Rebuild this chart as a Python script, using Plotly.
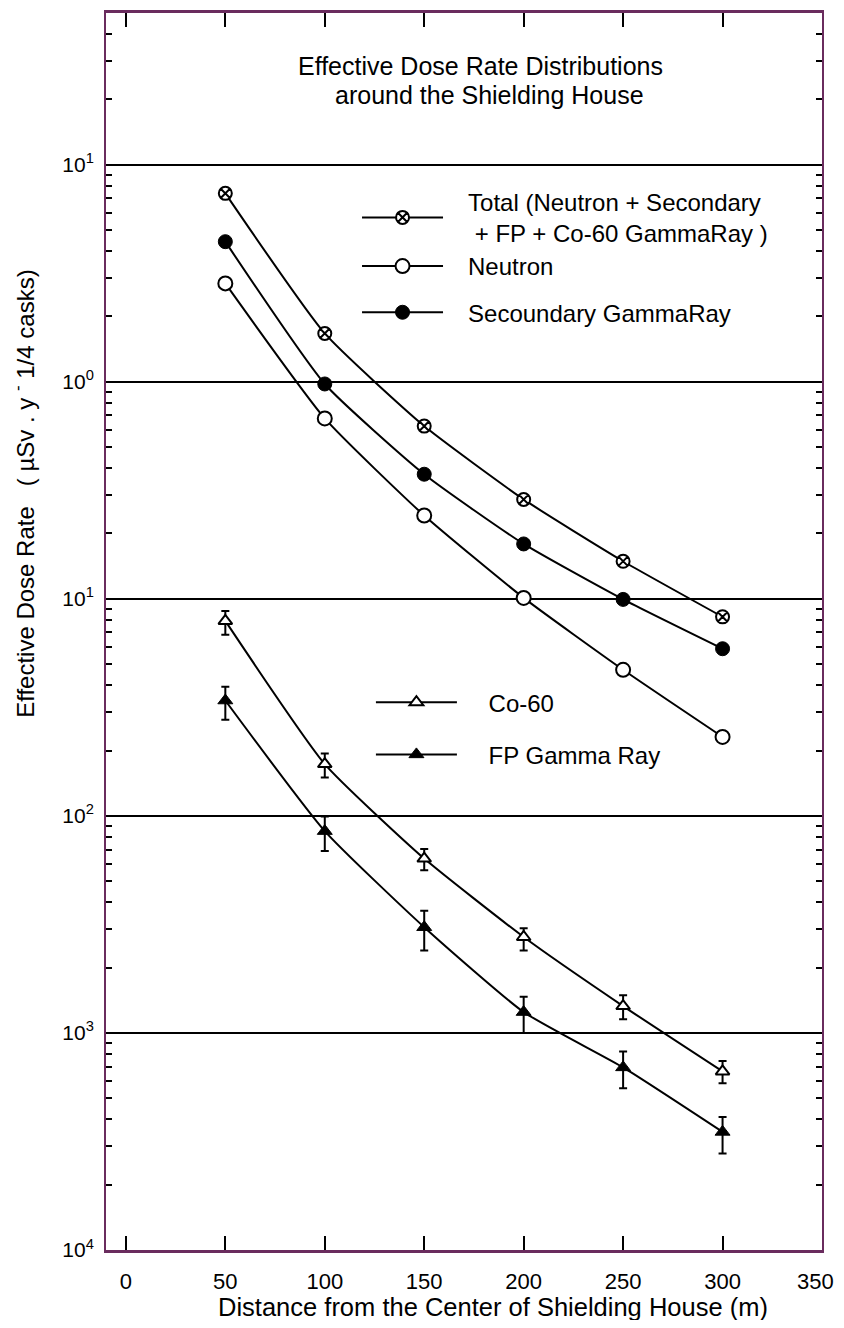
import plotly.graph_objects as go

# ---- data ----
distance = [50, 100, 150, 200, 250, 300]

total = [7.38, 1.67, 0.625, 0.287, 0.149, 0.0826]
neutron = [2.84, 0.678, 0.242, 0.101, 0.0471, 0.0231]
secondary = [4.42, 0.977, 0.375, 0.179, 0.0994, 0.0589]

co60 = [0.0791, 0.01733, 0.00636, 0.002767, 0.00133, 0.000665]
co60_hi = [0.0879, 0.01936, 0.00704, 0.00304, 0.00149, 0.000742]
co60_lo = [0.0683, 0.01504, 0.00562, 0.00240, 0.001156, 0.000587]

fp = [0.0340, 0.00851, 0.00307, 0.001248, 0.000694, 0.000350]
fp_hi = [0.0394, 0.00993, 0.00366, 0.00147, 0.000822, 0.000410]
fp_lo = [0.0277, 0.00689, 0.00240, 0.00100, 0.000556, 0.000278]

x_ticks = [0, 50, 100, 150, 200, 250, 300, 350]
x_ticktext = ["0", "50", "100", "150", "200", "250", "300", ""]
x_last_label = "350"
y_tickvals = [1e1, 1e0, 1e-1, 1e-2, 1e-3, 1e-4]
y_ticktext = ["10<sup>1</sup>", "10<sup>0</sup>", "10<sup>1</sup>", "10<sup>2</sup>",
              "10<sup>3</sup>", "10<sup>4</sup>"]

NB = "\u00a0"
names = {
    "total": NB * 3 + "Total (Neutron + Secondary<br>" + NB * 4 + "+ FP + Co-60 GammaRay )",
    "neutron": NB * 3 + "Neutron",
    "secondary": NB * 3 + "Secoundary GammaRay",
    "co60": NB * 4 + "Co-60",
    "fp": NB * 4 + "FP Gamma Ray",
}

FONT = "Liberation Sans, Arial, sans-serif"
FRAME = "#6a2c5e"

fig = go.Figure()

line_style = dict(color="black", width=2, shape="spline", smoothing=0.5)

fig.add_trace(go.Scatter(
    x=distance, y=total, name=names["total"], mode="lines+markers",
    line=line_style, legend="legend",
    marker=dict(symbol="circle-x", size=13, color="white",
                line=dict(color="black", width=2))))
fig.add_trace(go.Scatter(
    x=distance, y=neutron, name=names["neutron"], mode="lines+markers",
    line=line_style, legend="legend3", legendgroup="n",
    marker=dict(symbol="circle", size=14, color="white",
                line=dict(color="black", width=2))))
fig.add_trace(go.Scatter(
    x=distance, y=secondary, name=names["secondary"], mode="lines+markers",
    line=line_style, legend="legend3", legendgroup="s",
    marker=dict(symbol="circle", size=14, color="black",
                line=dict(color="black", width=1))))

fig.add_trace(go.Scatter(
    x=distance, y=co60, name=names["co60"], mode="lines+markers",
    line=line_style, legend="legend2", legendgroup="c",
    error_y=dict(type="data", symmetric=False,
                 array=[h - v for h, v in zip(co60_hi, co60)],
                 arrayminus=[v - l for v, l in zip(co60, co60_lo)],
                 color="black", thickness=2, width=4),
    marker=dict(symbol="triangle-up", size=12, color="white",
                line=dict(color="black", width=2))))
fig.add_trace(go.Scatter(
    x=distance, y=fp, name=names["fp"], mode="lines+markers",
    line=line_style, legend="legend2", legendgroup="f",
    error_y=dict(type="data", symmetric=False,
                 array=[h - v for h, v in zip(fp_hi, fp)],
                 arrayminus=[v - l for v, l in zip(fp, fp_lo)],
                 color="black", thickness=2, width=4),
    marker=dict(symbol="triangle-up", size=13, color="black",
                line=dict(color="black", width=1))))

minor_vals = []
for e in range(-4, 2):
    for m in range(2, 10):
        v = m * 10 ** e
        if v < 50:
            minor_vals.append(v)

leg_common = dict(xanchor="left", yanchor="middle", bgcolor="rgba(0,0,0,0)",
                  itemwidth=81, font=dict(family=FONT, size=24), itemclick=False,
                  borderwidth=0)

fig.update_layout(
    width=836, height=1312,
    margin=dict(l=98, r=22, t=2, b=70),
    paper_bgcolor="white", plot_bgcolor="white",
    font=dict(family=FONT, size=22, color="black"),
    showlegend=True,
    legend=dict(x=0.3506, y=0.8345, **leg_common),
    legend3=dict(x=0.3506, y=0.7765, tracegroupgap=12, **leg_common),
    legend2=dict(x=0.370, y=0.4215, tracegroupgap=18, **leg_common),
    xaxis=dict(range=[-10, 350], tickvals=x_ticks, ticktext=x_ticktext,
               ticks="inside", ticklen=14,
               tickwidth=2, tickcolor="black", showgrid=False, zeroline=False,
               showline=True, linecolor=FRAME, linewidth=3, mirror="allticks",
               tickfont=dict(family=FONT, size=22), ticklabelstandoff=10),
    yaxis=dict(type="log", range=[-4, 1.69897], tickvals=y_tickvals,
               ticktext=y_ticktext, ticks="inside", ticklen=0,
               showgrid=True, gridcolor="black", gridwidth=2,
               zeroline=False, showline=True, linecolor=FRAME, linewidth=2,
               mirror="allticks", tickfont=dict(family=FONT, size=21),
               ticklabelstandoff=6,
               minor=dict(tickvals=minor_vals, ticks="inside", ticklen=6,
                          tickwidth=2, tickcolor="black", showgrid=False)),
)

# last x tick label, kept inside the visible page
fig.add_annotation(text=x_last_label, xref="x", yref="paper",
                   x=x_ticks[-1], y=-0.0255, xanchor="right", yanchor="middle",
                   xshift=14, showarrow=False, font=dict(family=FONT, size=22))

fig.add_annotation(text="Effective Dose Rate Distributions", xref="paper", yref="paper",
                   x=0.5237, y=0.9572, xanchor="center", yanchor="middle",
                   showarrow=False, font=dict(family=FONT, size=25))
fig.add_annotation(text="around the Shielding House", xref="paper", yref="paper",
                   x=0.5363, y=0.9339, xanchor="center", yanchor="middle",
                   showarrow=False, font=dict(family=FONT, size=25))
fig.add_annotation(text="Distance from the Center of Shielding House (m)",
                   xref="paper", yref="paper", x=0.5405, y=-0.0464,
                   xanchor="center", yanchor="middle", showarrow=False,
                   font=dict(family=FONT, size=25.5))
fig.add_annotation(text="Effective Dose Rate   ( \u00b5Sv . y <sup>-</sup> 1/4 casks)",
                   xref="paper", yref="paper", x=-0.115, y=0.611,
                   xanchor="center", yanchor="middle",
                   textangle=-90, showarrow=False,
                   font=dict(family=FONT, size=24))

fig.write_html("out.html")
